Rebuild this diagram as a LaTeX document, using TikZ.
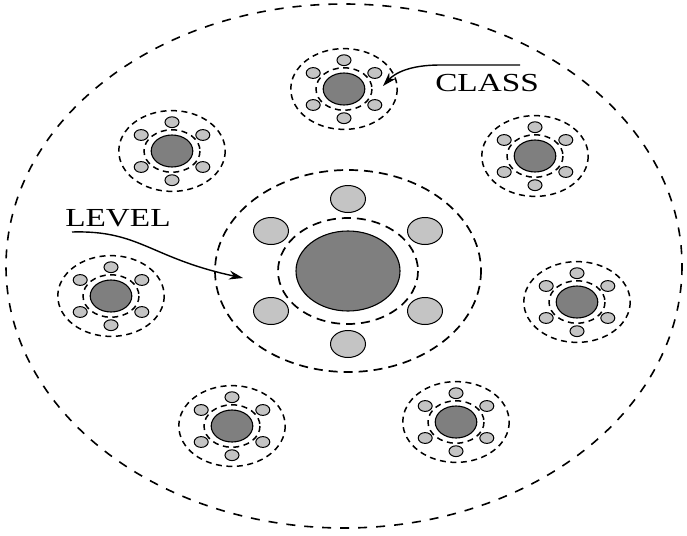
\documentclass[tikz,border=0pt]{standalone}
\usepackage{fontspec}
\setmainfont{Liberation Serif}
\usetikzlibrary{arrows.meta}
\definecolor{darkfill}{HTML}{7F7F7F}
\definecolor{lightfill}{HTML}{C4C4C4}
\tikzset{
  bigdash/.style={line width=1.6pt, dash pattern=on 9pt off 9pt},
  cldash/.style={line width=1.7pt, dash pattern=on 9pt off 6pt},
  smdash/.style={line width=1.5pt, dash pattern=on 6pt off 4.5pt},
  darkdisc/.style={fill=darkfill, draw=black, line width=1.1pt},
  lightdisc/.style={fill=lightfill, draw=black, line width=1pt},
  lbl/.style={font=\fontsize{26}{26}\selectfont, xscale=1.28, inner sep=0pt, anchor=base west},
  pointer/.style={line width=1.4pt, -{Stealth[length=14pt,width=9pt]}}
}
\newcommand\mycluster[4]{% x, y, scale, dash style
  \begin{scope}[shift={(#1,#2)}, scale=#3]
    \draw[#4] (0,0) ellipse [x radius=133, y radius=101];
    \draw[#4] (0,0) ellipse [x radius=70, y radius=53];
    \draw[darkdisc] (0,0) ellipse [x radius=52, y radius=40];
    \foreach \dx/\dy in {0/-72, 0/73, -77/-40, 77/-40, -77/40, 77/40}
      \draw[lightdisc] (\dx,\dy) ellipse [x radius=17.5, y radius=13.5];
  \end{scope}}
\begin{document}
\begin{tikzpicture}[x=1pt, y=-1pt]
  \useasboundingbox (0,0) rectangle (687,535);
  \draw[bigdash] (344,266) ellipse [x radius=338, y radius=262];
  \mycluster{348}{271}{1}{cldash}
  \mycluster{344}{89}{0.4}{smdash}
  \mycluster{172}{151}{0.4}{smdash}
  \mycluster{535}{156}{0.4}{smdash}
  \mycluster{111}{296}{0.4}{smdash}
  \mycluster{577}{302}{0.4}{smdash}
  \mycluster{232}{426}{0.4}{smdash}
  \mycluster{456}{422}{0.4}{smdash}
  \node[lbl] (classlbl) at (435,91) {CLASS};
  \node[lbl] (levellbl) at (65,226) {LEVEL};
  \coordinate (classstart) at (520,65);
  \coordinate (classtip) at (383,86);
  \coordinate (levelstart) at (72,232);
  \coordinate (leveltip) at (243,278);
  \draw[pointer] (classstart) -- (440,65) .. controls (410,65) and (395,73) .. (classtip);
  \draw[pointer] (levelstart) .. controls (140,230) and (150,258) .. (leveltip);
\end{tikzpicture}
\end{document}
